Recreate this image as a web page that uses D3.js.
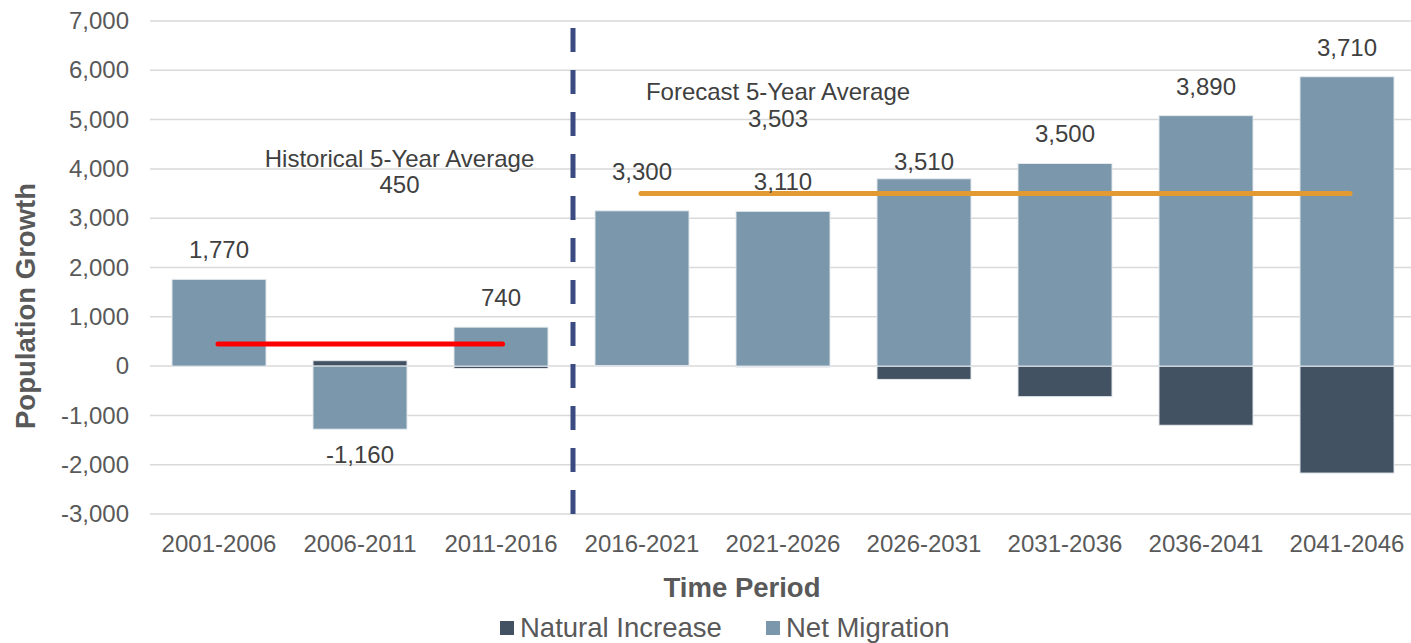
<!DOCTYPE html>
<html>
<head>
<meta charset="utf-8">
<script src="https://cdn.jsdelivr.net/npm/d3@7"></script>
<style>
  body { margin: 0; background: #fff; }
  svg { display: block; font-family: "Liberation Sans", Arial, sans-serif; }
</style>
</head>
<body>
<div id="chart"></div>
<script>
// chart data
const periods = ["2001-2006", "2006-2011", "2011-2016", "2016-2021", "2021-2026",
                 "2026-2031", "2031-2036", "2036-2041", "2041-2046"];
const naturalIncrease = [0, 110, -50, 10, -20, -270, -620, -1200, -2170];
const netMigration = [1760, -1280, 790, 3140, 3140, 3800, 4110, 5080, 5870];
const totalLabels = [1770, -1160, 740, 3300, 3110, 3510, 3500, 3890, 3710];
const historicalPeriods = ["2001-2006", "2011-2016"];
const forecastPeriods = ["2016-2021", "2041-2046"];
const historicalAvg = 450;
const forecastAvg = 3503;
const yTicks = [-3000, -2000, -1000, 0, 1000, 2000, 3000, 4000, 5000, 6000, 7000];
const seriesNames = ["Natural Increase", "Net Migration"];

document.addEventListener('DOMContentLoaded', function() {
    const width = 1411;
    const height = 643;
    const marginTop = 21;
    const marginLeft = 148.5;
    const marginRight = width - 1417.5;
    const plotBottom = 514;

    const colors = { "Natural Increase": "#425263", "Net Migration": "#7b97ac" };
    // hyphen instead of the unicode minus d3 uses
    const fmt = v => d3.format(",")(v).replace("\u2212", "-");

    const table = periods.map((p, i) => ({
        period: p,
        "Natural Increase": naturalIncrease[i],
        "Net Migration": netMigration[i],
        total: totalLabels[i]
    }));

    const x = d3.scaleBand()
        .domain(periods)
        .range([marginLeft, width - marginRight])
        .paddingInner(0.333)
        .paddingOuter(0.1665);

    const y = d3.scaleLinear()
        .domain([-3000, 7000])
        .range([plotBottom, marginTop]);

    const svg = d3.select("#chart").append("svg")
        .attr("width", width)
        .attr("height", height)
        .attr("viewBox", [0, 0, width, height]);

    // gridlines
    svg.append("g")
        .selectAll("line")
        .data(yTicks)
        .join("line")
        .attr("x1", marginLeft + 1.5)
        .attr("x2", width - marginRight)
        .attr("y1", d => y(d))
        .attr("y2", d => y(d))
        .attr("stroke", "#d9d9d9")
        .attr("stroke-width", 1.5);

    // y axis labels
    svg.append("g")
        .attr("transform", `translate(${marginLeft - 16.5},0)`)
        .call(d3.axisLeft(y).tickValues(yTicks).tickFormat(fmt).tickSize(0))
        .call(g => g.select(".domain").remove())
        .call(g => g.selectAll("text")
            .attr("font-size", 24)
            .attr("font-family", "Liberation Sans, Arial, sans-serif")
            .attr("fill", "#595959"));

    // x axis labels
    svg.append("g")
        .attr("transform", `translate(0,${plotBottom})`)
        .call(d3.axisBottom(x).tickSize(0))
        .call(g => g.select(".domain").remove())
        .call(g => g.selectAll("text")
            .attr("font-size", 24)
            .attr("font-family", "Liberation Sans, Arial, sans-serif")
            .attr("fill", "#595959")
            .attr("dy", "1.45em"));

    // stacked bars
    const series = d3.stack()
        .keys(seriesNames)
        .offset(d3.stackOffsetDiverging)(table);

    svg.append("g")
        .selectAll("g")
        .data(series)
        .join("g")
        .attr("fill", d => colors[d.key])
        .selectAll("rect")
        .data(d => d)
        .join("rect")
        .attr("x", d => x(d.data.period))
        .attr("width", x.bandwidth())
        .attr("y", d => y(Math.max(d[0], d[1])))
        .attr("height", d => Math.abs(y(d[0]) - y(d[1])))
        .attr("stroke", "#e6ebef")
        .attr("stroke-width", 1);

    // divider between historical and forecast
    const divX = (x(periods[2]) + x.bandwidth() + x(periods[3])) / 2 + 1.5;
    svg.append("line")
        .attr("x1", divX).attr("x2", divX)
        .attr("y1", marginTop + 7).attr("y2", plotBottom)
        .attr("stroke", "#3b4a80")
        .attr("stroke-width", 5)
        .attr("stroke-dasharray", "24 18");

    const center = p => x(p) + x.bandwidth() / 2;

    // average lines
    svg.append("line")
        .attr("x1", center(historicalPeriods[0]) - 1)
        .attr("x2", center(historicalPeriods[1]) + 1.5)
        .attr("y1", y(historicalAvg)).attr("y2", y(historicalAvg))
        .attr("stroke", "#ff0000")
        .attr("stroke-width", 5)
        .attr("stroke-linecap", "round");

    svg.append("line")
        .attr("x1", center(forecastPeriods[0]) - 1)
        .attr("x2", center(forecastPeriods[1]) + 3)
        .attr("y1", y(forecastAvg)).attr("y2", y(forecastAvg))
        .attr("stroke", "#e39a32")
        .attr("stroke-width", 5)
        .attr("stroke-linecap", "round");

    // total labels
    const labelNudge = [0, 0, 0, -10, 0, 12, 0, 0, 0];
    svg.append("g")
        .selectAll("text")
        .data(table)
        .join("text")
        .attr("x", d => center(d.period))
        .attr("y", (d, i) => {
            if (d.total < 0) {
                const low = Math.min(0, d["Natural Increase"]) + Math.min(0, d["Net Migration"]);
                return y(low) + 34;
            }
            const high = Math.max(0, d["Natural Increase"]) + Math.max(0, d["Net Migration"]);
            return y(high) - 21 + labelNudge[i];
        })
        .attr("text-anchor", "middle")
        .attr("font-size", 24)
        .attr("fill", "#404040")
        .text(d => fmt(d.total));

    // average annotations
    const histX = (center(periods[1]) + center(periods[2])) / 2 - 31;
    const fcX = center(periods[4]) - 5;
    const notes = [
        { x: histX, y: 167, text: "Historical 5-Year Average" },
        { x: histX, y: 193, text: fmt(historicalAvg) },
        { x: fcX, y: 100, text: "Forecast 5-Year Average" },
        { x: fcX, y: 127, text: fmt(forecastAvg) }
    ];
    svg.append("g")
        .selectAll("text")
        .data(notes)
        .join("text")
        .attr("x", d => d.x)
        .attr("y", d => d.y)
        .attr("text-anchor", "middle")
        .attr("font-size", 24)
        .attr("fill", "#404040")
        .text(d => d.text);

    // axis titles
    svg.append("text")
        .attr("x", 742)
        .attr("y", 597)
        .attr("text-anchor", "middle")
        .attr("font-size", 27.5)
        .attr("font-weight", "bold")
        .attr("fill", "#595959")
        .text("Time Period");

    svg.append("text")
        .attr("transform", "translate(35,306) rotate(-90)")
        .attr("text-anchor", "middle")
        .attr("font-size", 27.5)
        .attr("font-weight", "bold")
        .attr("fill", "#595959")
        .text("Population Growth");

    // legend
    const legend = svg.append("g")
        .selectAll("g")
        .data(seriesNames)
        .join("g")
        .attr("transform", (d, i) => `translate(${i === 0 ? 500 : 766},0)`);

    legend.append("rect")
        .attr("y", 621)
        .attr("width", 14)
        .attr("height", 14)
        .attr("fill", d => colors[d]);

    legend.append("text")
        .attr("x", 20)
        .attr("y", 637)
        .attr("font-size", 27.5)
        .attr("fill", "#595959")
        .text(d => d);
});
</script>
</body>
</html>
